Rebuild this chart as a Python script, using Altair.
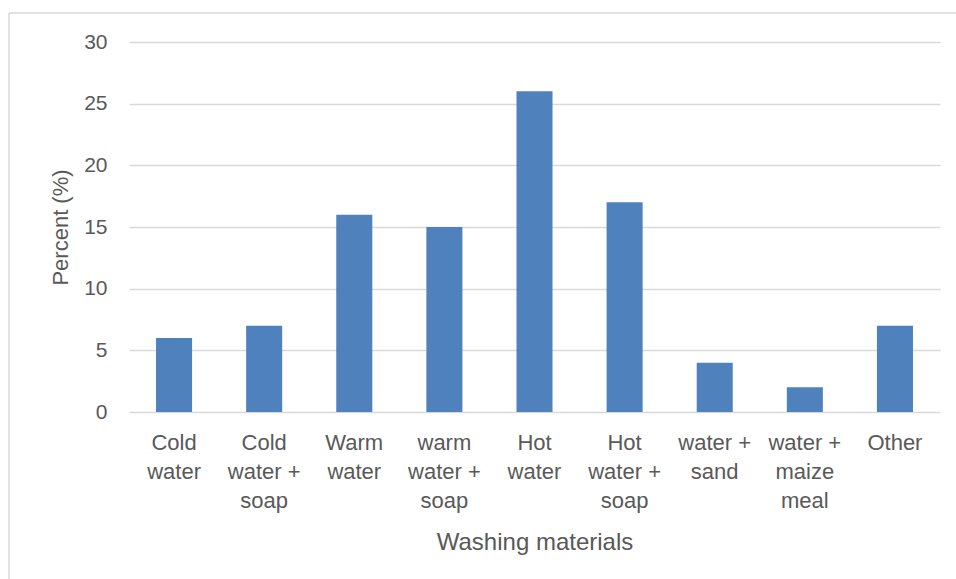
import altair as alt
import pandas as pd

# Share of respondents by washing material used
categories = [
    "Cold\nwater",
    "Cold\nwater +\nsoap",
    "Warm\nwater",
    "warm\nwater +\nsoap",
    "Hot\nwater",
    "Hot\nwater +\nsoap",
    "water +\nsand",
    "water +\nmaize\nmeal",
    "Other",
]
percent = [6, 7, 16, 15, 26, 17, 4, 2, 7]

df = pd.DataFrame({"material": categories, "percent": percent})

FONT = "Liberation Sans"
TEXT = "#595959"
GRID = "#d9d9d9"

bars = alt.Chart(df).mark_bar(color="#4F81BD").encode(
    x=alt.X(
        "material:N",
        sort=categories,
        scale=alt.Scale(paddingInner=0.6, paddingOuter=0.3),
        axis=alt.Axis(
            title="Washing materials",
            labelAngle=0,
            labelExpr="split(datum.label, '\\n')",
            labelLineHeight=29,
            labelPadding=20,
            labelFontSize=22,
            labelColor=TEXT,
            labelFont=FONT,
            ticks=False,
            domain=False,
            titleFontSize=24,
            titleFontWeight="normal",
            titleColor=TEXT,
            titleFont=FONT,
            titleBaseline="alphabetic",
            titleY=137,
        ),
    ),
    y=alt.Y(
        "percent:Q",
        scale=alt.Scale(domain=[0, 30]),
        axis=alt.Axis(
            title="Percent (%)",
            values=[0, 5, 10, 15, 20, 25, 30],
            grid=True,
            gridColor=GRID,
            gridWidth=1.3,
            ticks=False,
            domain=False,
            labelPadding=22,
            labelFontSize=21,
            labelColor=TEXT,
            labelFont=FONT,
            titleFontSize=22,
            titleFontWeight="normal",
            titleColor=TEXT,
            titleFont=FONT,
            titleBaseline="middle",
            titleX=-69,
        ),
    ),
)

# Light outline around the chart area
frame = pd.DataFrame({"k": [0]})
frame_top = alt.Chart(frame).mark_rule(color=GRID, strokeWidth=1.5).encode(
    x=alt.value(-120), x2=alt.value(900), y=alt.value(-29)
)
frame_left = alt.Chart(frame).mark_rule(color=GRID, strokeWidth=1.5).encode(
    x=alt.value(-120), y=alt.value(-29), y2=alt.value(700)
)

chart = (
    alt.layer(frame_top, frame_left, bars)
    .properties(
        width=811,
        height=370,
        autosize=alt.AutoSizeParams(type="none"),
        padding={"left": 129, "top": 42, "right": 16, "bottom": 167},
        background="white",
    )
    .configure_view(stroke=None)
)

chart.save("out.html", embed_options={"renderer": "svg", "actions": False})
